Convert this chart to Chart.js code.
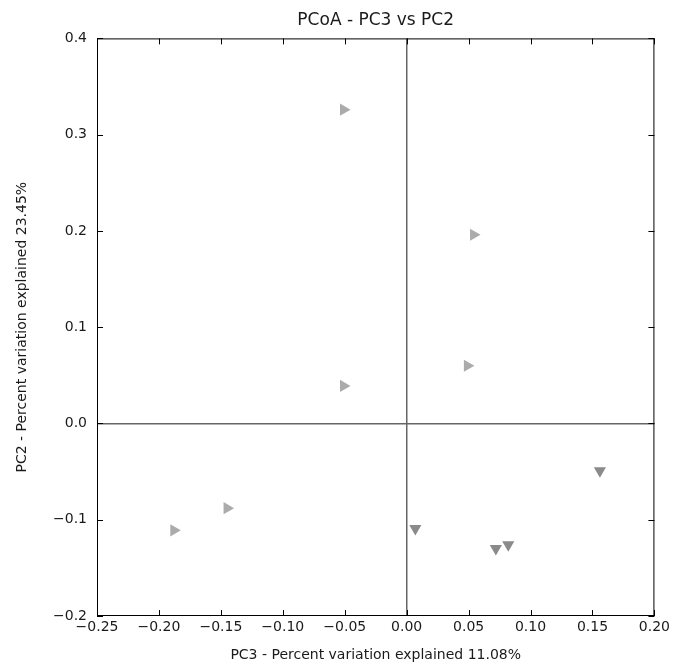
<!DOCTYPE html>
<html>
<head>
<meta charset="utf-8">
<script src="https://cdn.jsdelivr.net/npm/chart.js@4"></script>
<style>
  html, body { margin: 0; padding: 0; background: #fff; }
  #pcoa { display: block; }
</style>
</head>
<body>
<canvas id="pcoa" width="673" height="666"></canvas>
<script>
// samples drawn as right-pointing triangles
const rightPC3 = [-0.051, 0.054, 0.049, -0.051, -0.145, -0.188];
const rightPC2 = [0.326, 0.196, 0.060, 0.039, -0.088, -0.111];
// samples drawn as down-pointing triangles
const downPC3 = [0.007, 0.072, 0.082, 0.156];
const downPC2 = [-0.109, -0.130, -0.126, -0.049];

const xTicks = [-0.25, -0.20, -0.15, -0.10, -0.05, 0.00, 0.05, 0.10, 0.15, 0.20];
const yTicks = [-0.2, -0.1, 0.0, 0.1, 0.2, 0.3, 0.4];

function pts(xs, ys) {
    return xs.map((x, i) => ({ x: x, y: ys[i] }));
}
function fmt(v, d) {
    const s = Math.abs(v).toFixed(d);
    return v < -1e-9 ? '\u2212' + s : s;
}

const FONT = 'DejaVu Sans';

// matplotlib-like frame with inward ticks on all four sides
const frameTicks = {
    id: 'frameTicks',
    afterDraw(chart) {
        const ctx = chart.ctx;
        const a = chart.chartArea;
        const xs = chart.scales.x, ys = chart.scales.y;
        ctx.save();
        ctx.strokeStyle = '#000';
        ctx.lineWidth = 1;
        ctx.strokeRect(a.left + 0.5, a.top + 0.5, a.right - a.left - 1, a.bottom - a.top - 1);
        ctx.beginPath();
        xTicks.forEach(v => {
            const px = Math.round(xs.getPixelForValue(v)) + 0.5;
            ctx.moveTo(px, a.bottom); ctx.lineTo(px, a.bottom - 6);
            ctx.moveTo(px, a.top); ctx.lineTo(px, a.top + 6);
        });
        yTicks.forEach(v => {
            const py = Math.round(ys.getPixelForValue(v)) + 0.5;
            ctx.moveTo(a.left, py); ctx.lineTo(a.left + 6, py);
            ctx.moveTo(a.right, py); ctx.lineTo(a.right - 6, py);
        });
        ctx.stroke();
        ctx.restore();
    }
};

new Chart(document.getElementById('pcoa').getContext('2d'), {
    type: 'scatter',
    data: {
        datasets: [{
            data: pts(rightPC3, rightPC2),
            pointStyle: 'triangle',
            rotation: 90,
            radius: 7,
            backgroundColor: '#ababab',
            borderColor: '#ababab',
            borderWidth: 0
        }, {
            data: pts(downPC3, downPC2),
            pointStyle: 'triangle',
            rotation: 180,
            radius: 7,
            backgroundColor: '#8a8a8a',
            borderColor: '#8a8a8a',
            borderWidth: 0
        }]
    },
    options: {
        responsive: false,
        animation: false,
        layout: { padding: { top: 10, right: 13, left: 4, bottom: 2 } },
        plugins: {
            legend: { display: false },
            tooltip: { enabled: false },
            title: {
                display: true,
                fullSize: false,
                text: 'PCoA - PC3 vs PC2',
                color: '#1a1a1a',
                font: { family: FONT, size: 17, weight: 'normal' },
                padding: { top: 0, bottom: 8 }
            }
        },
        scales: {
            x: {
                type: 'linear',
                min: -0.25,
                max: 0.20,
                afterBuildTicks: s => { s.ticks = xTicks.map(v => ({ value: v })); },
                afterFit: s => { s.height = 48; },
                border: { display: false },
                grid: {
                    drawTicks: false,
                    color: c => (c.tick && Math.abs(c.tick.value) < 1e-9) ? '#666' : 'rgba(0,0,0,0)',
                    lineWidth: 1.5
                },
                ticks: {
                    padding: 3,
                    color: '#1a1a1a',
                    maxRotation: 0,
                    autoSkip: false,
                    font: { family: FONT, size: 14 },
                    callback: v => fmt(v, 2)
                },
                title: {
                    display: true,
                    text: 'PC3 - Percent variation explained 11.08%',
                    color: '#1a1a1a',
                    font: { family: FONT, size: 14 },
                    padding: { top: 1, bottom: 0 }
                }
            },
            y: {
                type: 'linear',
                min: -0.2,
                max: 0.4,
                afterBuildTicks: s => { s.ticks = yTicks.map(v => ({ value: v })); },
                afterFit: s => { s.width = 93; },
                border: { display: false },
                grid: {
                    drawTicks: false,
                    color: c => (c.tick && Math.abs(c.tick.value) < 1e-9) ? '#666' : 'rgba(0,0,0,0)',
                    lineWidth: 1.5
                },
                ticks: {
                    padding: 10,
                    color: '#1a1a1a',
                    autoSkip: false,
                    font: { family: FONT, size: 14 },
                    callback: v => fmt(v, 1)
                },
                title: {
                    display: true,
                    text: 'PC2 - Percent variation explained 23.45%',
                    color: '#1a1a1a',
                    font: { family: FONT, size: 14 },
                    padding: { top: 10, bottom: 0 }
                }
            }
        }
    },
    plugins: [frameTicks]
});
</script>
</body>
</html>
